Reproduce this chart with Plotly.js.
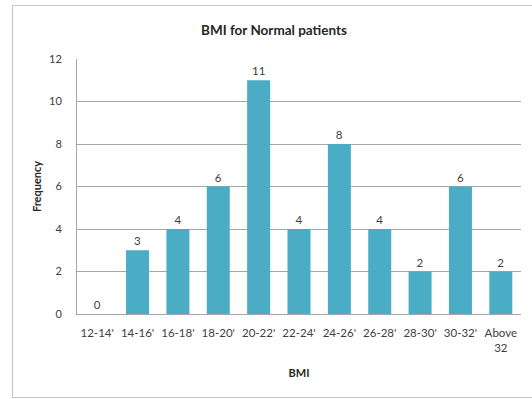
<!DOCTYPE html>
<html>
<head>
<meta charset="utf-8">
<script src="https://cdn.plot.ly/plotly-3.0.1.min.js"></script>
<style>html,body{margin:0;padding:0;background:#fff;}#chart{width:532px;height:399px;}</style>
</head>
<body>
<div id="chart"></div>
<script>
var categories = ["12-14'", "14-16'", "16-18'", "18-20'", "20-22'", "22-24'", "24-26'", "26-28'", "28-30'", "30-32'", "Above<br>32"];
var frequency = [0, 3, 4, 6, 11, 4, 8, 4, 2, 6, 2];
var yTicks = [0, 2, 4, 6, 8, 10, 12];

var FONT = "Lato, 'Open Sans', sans-serif";

var trace = {
  type: 'bar',
  x: categories,
  y: frequency,
  text: frequency.map(String),
  textposition: 'outside',
  cliponaxis: false,
  textfont: {family: FONT, size: 11.5, color: '#404040'},
  marker: {color: '#4BACC6', line: {width: 0}},
  hoverinfo: 'none'
};

var layout = {
  width: 532, height: 399,
  margin: {l: 77, r: 11, t: 59, b: 85},
  paper_bgcolor: '#fff', plot_bgcolor: '#fff',
  bargap: 0.43,
  showlegend: false,
  font: {family: FONT, color: '#404040'},
  title: {
    text: '<b>BMI for Normal patients</b>',
    font: {family: FONT, size: 13.5, color: '#262626'},
    x: 274 / 532, xref: 'container', xanchor: 'center',
    y: 1 - 30 / 399, yref: 'container', yanchor: 'middle'
  },
  xaxis: {
    type: 'category',
    tickfont: {family: FONT, size: 11.5, color: '#404040'},
    showline: true, linecolor: '#A6A6A6', linewidth: 1,
    ticks: '', ticklabelstandoff: 8,
    showgrid: false, zeroline: false,
    title: {text: '<b>BMI</b>', font: {family: FONT, size: 11, color: '#262626'}, standoff: 16}
  },
  yaxis: {
    range: [0, 12],
    tickvals: yTicks,
    ticktext: yTicks.map(String),
    tickfont: {family: FONT, size: 11, color: '#404040'},
    showline: true, linecolor: '#A6A6A6', linewidth: 1,
    showgrid: true, gridcolor: '#A6A6A6', gridwidth: 1,
    zeroline: false, ticks: '', ticklabelstandoff: 12,
    title: {text: '<b>Frequency</b>', font: {family: FONT, size: 11, color: '#262626'}, standoff: 5}
  },
  shapes: [{
    type: 'rect', xref: 'paper', yref: 'paper',
    x0: (12.5 - 77) / 444, x1: 1.1,
    y0: (314 - 397.5) / 255, y1: (314 - 5.5) / 255,
    line: {color: '#C8C8C8', width: 1.2}, fillcolor: 'rgba(0,0,0,0)', layer: 'below'
  }]
};

Plotly.newPlot('chart', [trace], layout, {staticPlot: true, displayModeBar: false});
</script>
</body>
</html>
